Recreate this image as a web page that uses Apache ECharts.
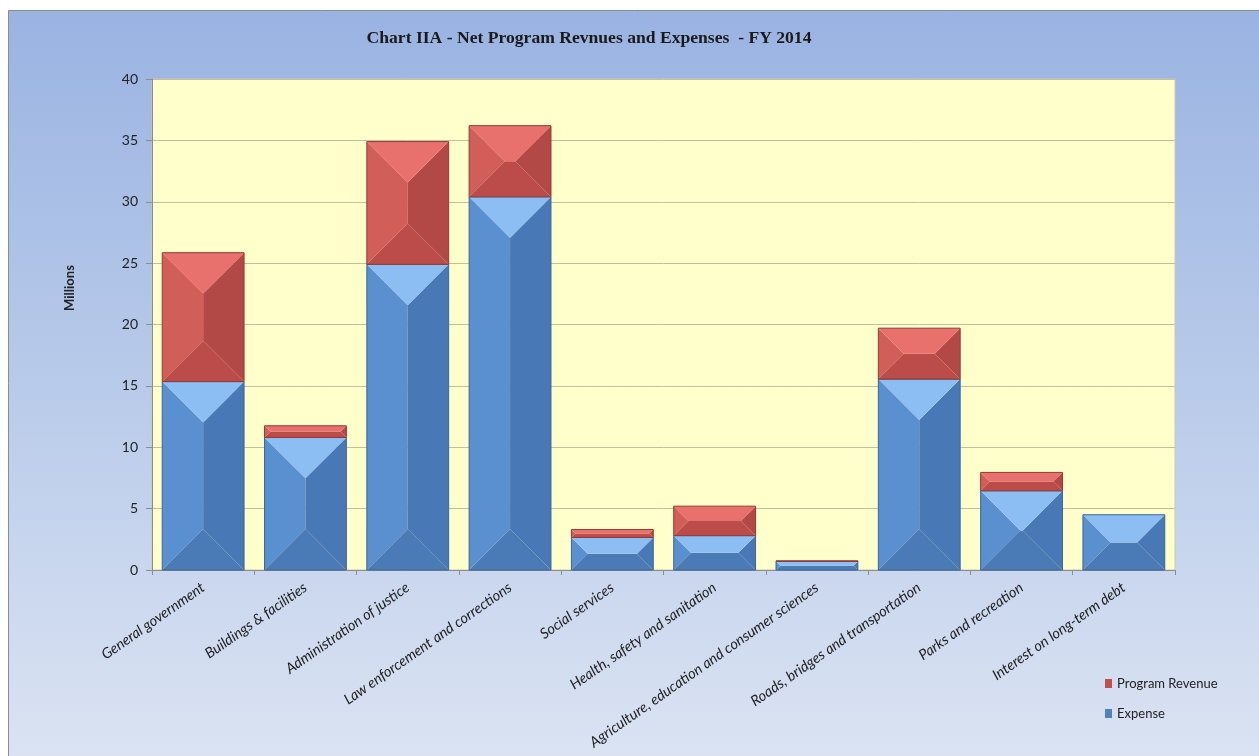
<!DOCTYPE html>
<html>
<head>
<meta charset="utf-8">
<script src="https://cdn.jsdelivr.net/npm/echarts@6/dist/echarts.min.js"></script>
<style>
  html, body { margin: 0; padding: 0; background: #ffffff; }
  #chart { width: 1259px; height: 756px; }
</style>
</head>
<body>
<div id="chart"></div>
<script>
// Functional categories (millions of dollars)
const categories = [
  'General government',
  'Buildings & facilities',
  'Administration of justice',
  'Law enforcement and corrections',
  'Social services',
  'Health, safety and sanitation',
  'Agriculture, education and consumer sciences',
  'Roads, bridges and transportation',
  'Parks and recreation',
  'Interest on long-term debt'
];
const expense        = [15.35, 10.8, 24.9, 30.4, 2.65, 2.8, 0.7, 15.55, 6.45, 4.5];
const programRevenue = [10.5, 0.95, 10.0, 5.8, 0.65, 2.4, 0.05, 4.15, 1.5, 0];
const yMin = 0, yMax = 40, yStep = 5;

// Stacked segments: [categoryIndex, bottom, top]
const expenseSegments = expense.map((v, i) => [i, 0, v]);
const revenueSegments = programRevenue.map((v, i) => [i, expense[i], expense[i] + v]);

// Bevelled face shades for each series
const shades = {
  blue: { top: '#8cbef4', left: '#5a8fd0', mid: '#5487c7', right: '#4878b6', bottom: '#4a7bb6', stroke: '#3d6698' },
  red:  { top: '#e9716d', left: '#d25e5a', mid: '#c8524f', right: '#b34946', bottom: '#bb4c49', stroke: '#933a37' }
};

function bevelBar(palette) {
  return function (params, api) {
    const cat = api.value(0);
    const lo = api.value(1), hi = api.value(2);
    if (hi - lo <= 0) return null;
    const pb = api.coord([cat, lo]);
    const pt = api.coord([cat, hi]);
    const w = api.size([1, 0])[0] * 0.8;
    const x0 = pb[0] - w / 2, x1 = pb[0] + w / 2;
    const yb = pb[1], yt = pt[1];
    const h = yb - yt;
    const dv = Math.min(h / 2, w / 2);
    const dh = Math.min(w / 2, dv);
    const poly = (pts, fill) => ({ type: 'polygon', shape: { points: pts }, style: { fill: fill } });
    return {
      type: 'group',
      children: [
        poly([[x0 + dh, yt + dv], [x1 - dh, yt + dv], [x1 - dh, yb - dv], [x0 + dh, yb - dv]], palette.mid),
        poly([[x0, yt], [x0 + dh, yt + dv], [x0 + dh, yb - dv], [x0, yb]], palette.left),
        poly([[x1, yt], [x1 - dh, yt + dv], [x1 - dh, yb - dv], [x1, yb]], palette.right),
        poly([[x0, yb], [x1, yb], [x1 - dh, yb - dv], [x0 + dh, yb - dv]], palette.bottom),
        poly([[x0, yt], [x1, yt], [x1 - dh, yt + dv], [x0 + dh, yt + dv]], palette.top),
        { type: 'rect', shape: { x: x0, y: yt, width: w, height: h },
          style: { fill: 'none', stroke: palette.stroke, lineWidth: 1 } }
      ]
    };
  };
}

const labelFont = 'Lato, "Open Sans", sans-serif';

const chart = echarts.init(document.getElementById('chart'), null, { renderer: 'canvas' });
chart.setOption({
  backgroundColor: '#ffffff',
  animation: false,
  graphic: [
    {
      type: 'rect', z: -10, silent: true,
      shape: { x: 8.5, y: 10.5, width: 1262, height: 760 },
      style: {
        stroke: '#8c8c8c', lineWidth: 1,
        fill: new echarts.graphic.LinearGradient(0, 0, 0, 1, [
          { offset: 0, color: '#9ab3e2' },
          { offset: 0.5, color: '#b9cbea' },
          { offset: 1, color: '#dce4f3' }
        ])
      }
    },
    {
      type: 'text', silent: true, x: 589, y: 38,
      style: {
        text: 'Chart IIA - Net Program Revnues and Expenses  - FY 2014',
        font: 'bold 17.6px "Liberation Serif", serif',
        fill: '#1a1a1a', textAlign: 'center', textVerticalAlign: 'middle'
      }
    },
    {
      type: 'text', silent: true, x: 70, y: 288, rotation: Math.PI / 2,
      style: {
        text: 'Millions',
        font: 'bold 13px Lato, "Open Sans", sans-serif',
        fill: '#222', textAlign: 'center', textVerticalAlign: 'middle'
      }
    }
  ],
  legend: {
    orient: 'vertical',
    left: 1100, top: 672,
    itemGap: 17,
    itemWidth: 7, itemHeight: 9,
    icon: 'rect',
    data: ['Program Revenue', 'Expense'],
    textStyle: { fontFamily: labelFont, fontSize: 13, color: '#222' }
  },
  grid: {
    left: 152, top: 79, width: 1023, height: 491,
    show: true, backgroundColor: '#ffffcc',
    borderColor: '#c9c9b5', borderWidth: 1
  },
  xAxis: {
    type: 'category',
    data: categories,
    axisLine: { lineStyle: { color: '#8c8c8c' } },
    axisTick: { show: true, length: 5, lineStyle: { color: '#8c8c8c' } },
    axisLabel: {
      rotate: 35, interval: 0, margin: 16,
      fontFamily: labelFont, fontSize: 14.6, fontStyle: 'italic', color: '#222'
    }
  },
  yAxis: {
    type: 'value',
    min: yMin, max: yMax, interval: yStep,
    axisLine: { show: true, lineStyle: { color: '#8c8c8c' } },
    axisTick: { show: true, length: 6, lineStyle: { color: '#8c8c8c' } },
    axisLabel: { fontFamily: labelFont, fontSize: 14, color: '#222', margin: 14 },
    splitLine: { lineStyle: { color: '#c2c0a0' } }
  },
  series: [
    {
      name: 'Expense', type: 'custom',
      renderItem: bevelBar(shades.blue),
      encode: { x: 0, y: [1, 2] },
      itemStyle: { color: '#4f81bd' },
      data: expenseSegments
    },
    {
      name: 'Program Revenue', type: 'custom',
      renderItem: bevelBar(shades.red),
      encode: { x: 0, y: [1, 2] },
      itemStyle: { color: '#c0504d' },
      data: revenueSegments
    }
  ]
});
</script>
</body>
</html>
